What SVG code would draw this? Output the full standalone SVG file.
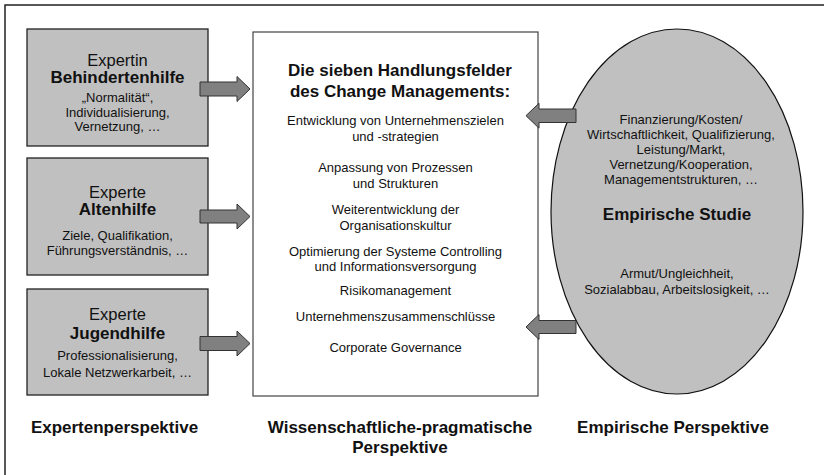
<svg xmlns="http://www.w3.org/2000/svg" width="824" height="475" viewBox="0 0 824 475">
  <style>
    text { font-family: "Liberation Sans", Arial, sans-serif; fill: #111; text-anchor: middle; }
    .head { font-size: 16.5px; }
    .bold { font-size: 17px; font-weight: bold; }
    .small { font-size: 13px; }
    .box { fill: #c0c0c0; stroke: #222; stroke-width: 1.3; }
    .arrow { fill: #808080; stroke: #333; stroke-width: 1; }
  </style>

  <rect width="824" height="475" fill="#fff"/>
  <!-- outer frame -->
  <rect x="5" y="5" width="840" height="490" fill="none" stroke="#222" stroke-width="1.5"/>

  <!-- left expert boxes -->
  <g id="behindertenhilfe">
    <rect class="box" x="27" y="29" width="181" height="117"/>
    <text class="head" x="117.5" y="65.5">Expertin</text>
    <text class="bold" x="117.5" y="83">Behindertenhilfe</text>
    <text class="small" x="117.5" y="102">„Normalität“,</text>
    <text class="small" x="117.5" y="116.5">Individualisierung,</text>
    <text class="small" x="117.5" y="131">Vernetzung, …</text>
  </g>

  <g id="altenhilfe">
    <rect class="box" x="27" y="158" width="181" height="117"/>
    <text class="head" x="117.5" y="198">Experte</text>
    <text class="bold" x="117.5" y="215">Altenhilfe</text>
    <text class="small" x="117.5" y="239.5">Ziele, Qualifikation,</text>
    <text class="small" x="117.5" y="254.5">Führungsverständnis, …</text>
  </g>

  <g id="jugendhilfe">
    <rect class="box" x="27" y="289" width="181" height="106"/>
    <text class="head" x="117.5" y="320">Experte</text>
    <text class="bold" x="117.5" y="339">Jugendhilfe</text>
    <text class="small" x="117.5" y="360">Professionalisierung,</text>
    <text class="small" x="117.5" y="376.5">Lokale Netzwerkarbeit, …</text>
  </g>

  <!-- central box: fields of action -->
  <g id="handlungsfelder">
    <rect x="253" y="32" width="285" height="364" fill="#fff" stroke="#444" stroke-width="1.2"/>
    <text class="bold" x="400" y="76">Die sieben Handlungsfelder</text>
    <text class="bold" x="400" y="97">des Change Managements:</text>
    <text class="small" x="395.5" y="125">Entwicklung von Unternehmenszielen</text>
    <text class="small" x="395.5" y="140.5">und -strategien</text>
    <text class="small" x="395.5" y="172">Anpassung von Prozessen</text>
    <text class="small" x="395.5" y="188">und Strukturen</text>
    <text class="small" x="395.5" y="214">Weiterentwicklung der</text>
    <text class="small" x="395.5" y="229.5">Organisationskultur</text>
    <text class="small" x="395.5" y="256">Optimierung der Systeme Controlling</text>
    <text class="small" x="395.5" y="271">und Informationsversorgung</text>
    <text class="small" x="395.5" y="295">Risikomanagement</text>
    <text class="small" x="395.5" y="320.5">Unternehmenszusammenschlüsse</text>
    <text class="small" x="395.5" y="351.5">Corporate Governance</text>
  </g>

  <!-- empirical study ellipse -->
  <g id="empirische-studie">
    <ellipse cx="677" cy="211.5" rx="126" ry="182.5" fill="#c0c0c0" stroke="#111" stroke-width="1.2"/>
    <text class="small" x="681" y="123.5">Finanzierung/Kosten/</text>
    <text class="small" x="681" y="138.5">Wirtschaftlichkeit, Qualifizierung,</text>
    <text class="small" x="681" y="153.5">Leistung/Markt,</text>
    <text class="small" x="681" y="168.5">Vernetzung/Kooperation,</text>
    <text class="small" x="681" y="183.5">Managementstrukturen, …</text>
    <text class="bold" x="677" y="219.5">Empirische Studie</text>
    <text class="small" x="677" y="277.5">Armut/Ungleichheit,</text>
    <text class="small" x="677" y="294">Sozialabbau, Arbeitslosigkeit, …</text>
  </g>

  <!-- connectors: block arrows -->
  <g id="connectors">
    <path class="arrow" d="M200,82 H237 V76.5 L250,89 L237,101.5 V96 H200 Z"/>
    <path class="arrow" d="M200,210 H237 V204 L250,216.5 L237,229 V223 H200 Z"/>
    <path class="arrow" d="M200,336.5 H237 V331 L250,343.5 L237,356 V350.5 H200 Z"/>
    <path class="arrow" d="M576,109 H539 V103.2 L526,115.7 L539,128.2 V122.5 H576 Z"/>
    <path class="arrow" d="M576,320.5 H539 V314.5 L526,327 L539,339.5 V333.5 H576 Z"/>
  </g>

  <!-- perspective captions -->
  <g id="captions">
    <text class="bold" x="114.5" y="433">Expertenperspektive</text>
    <text class="bold" x="400" y="433">Wissenschaftliche-pragmatische</text>
    <text class="bold" x="400" y="453">Perspektive</text>
    <text class="bold" x="673" y="433">Empirische Perspektive</text>
  </g>
</svg>
